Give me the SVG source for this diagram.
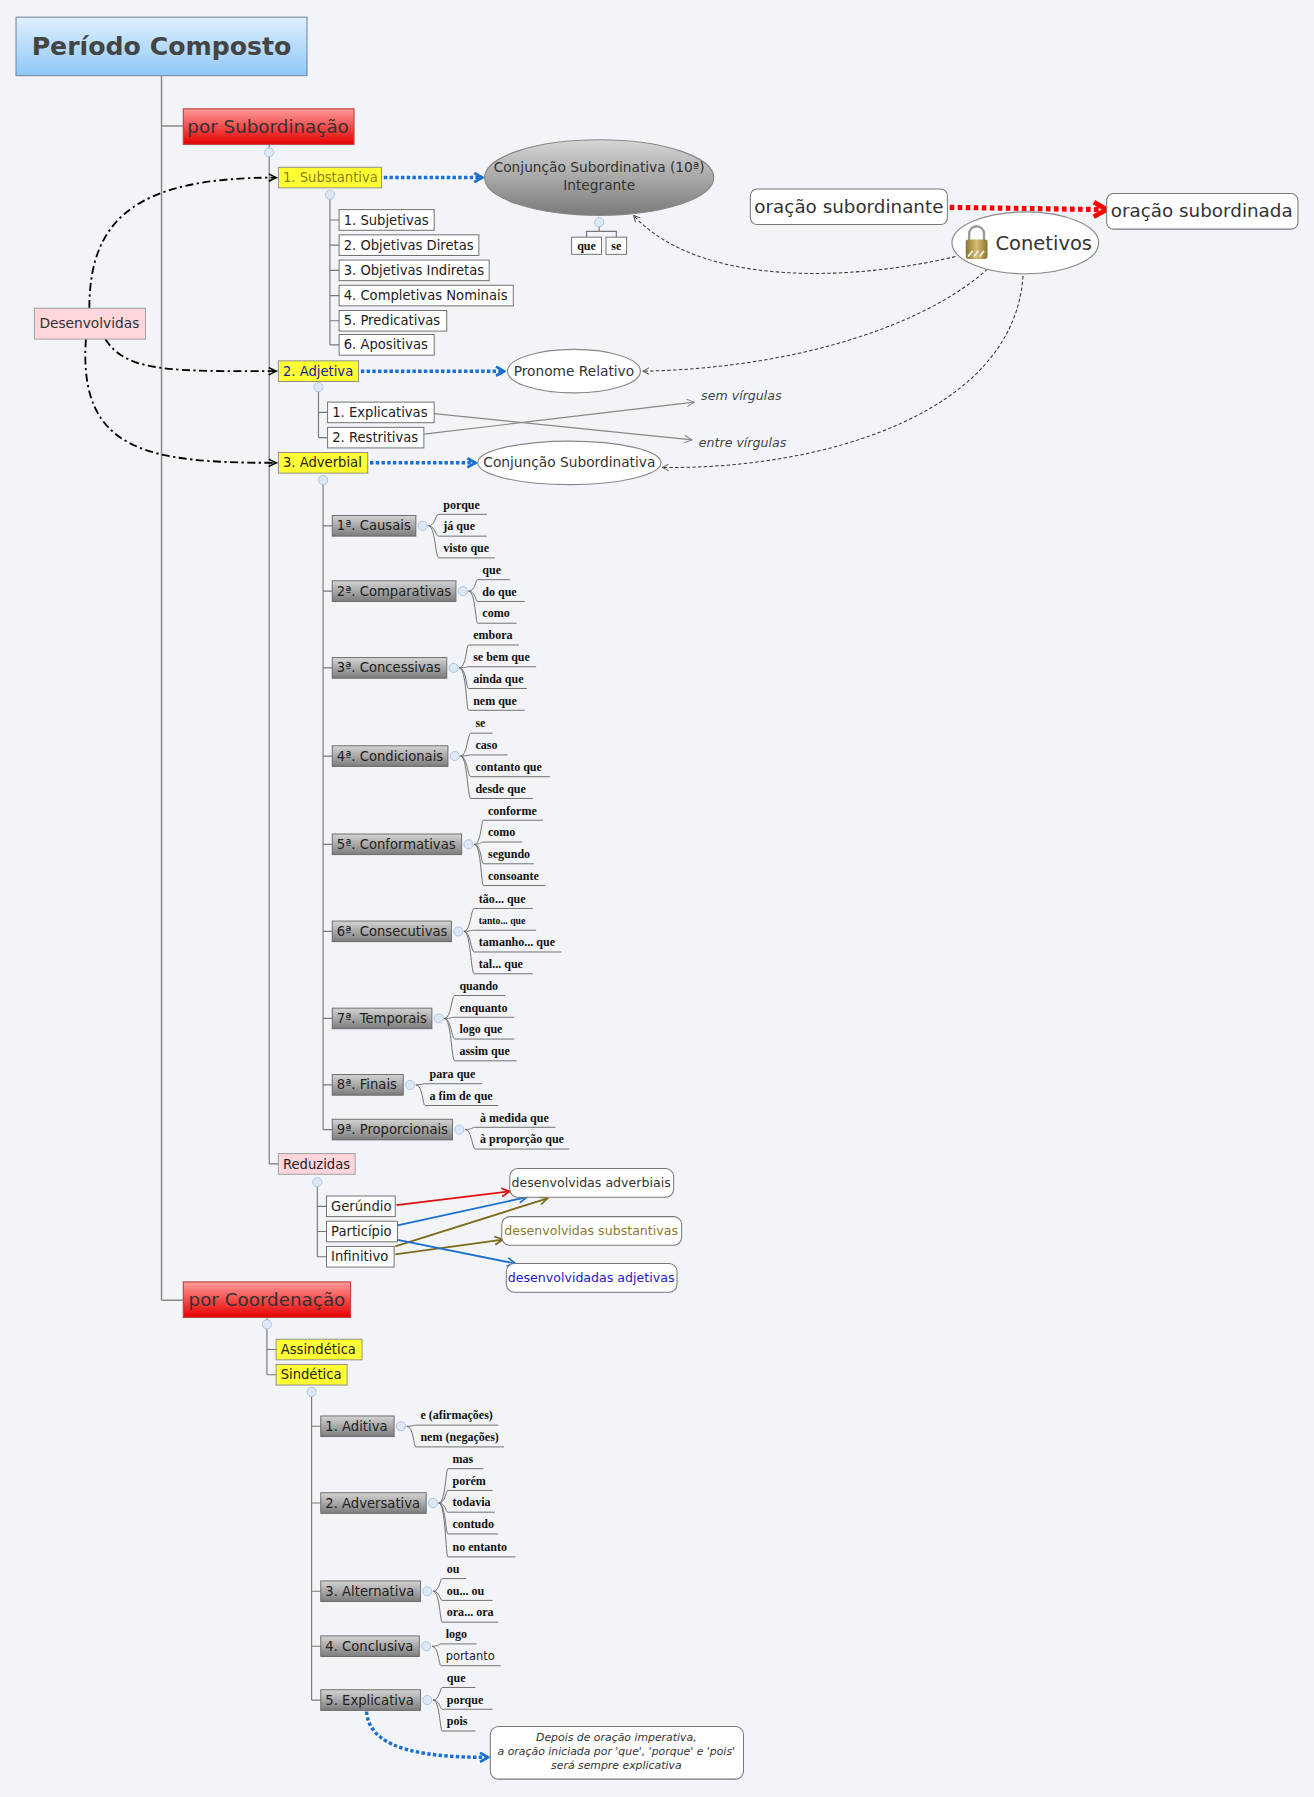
<svg xmlns="http://www.w3.org/2000/svg" width="1314" height="1797" viewBox="0 0 1314 1797">
<defs>
<linearGradient id="gBlue" x1="0" y1="0" x2="0" y2="1"><stop offset="0" stop-color="#dff0ff"/><stop offset="1" stop-color="#8ec8f7"/></linearGradient>
<linearGradient id="gRed" x1="0" y1="0" x2="0" y2="1"><stop offset="0" stop-color="#ff9a9a"/><stop offset="1" stop-color="#e60000"/></linearGradient>
<linearGradient id="gGray" x1="0" y1="0" x2="0" y2="1"><stop offset="0" stop-color="#d4d4d4"/><stop offset="1" stop-color="#7c7c7c"/></linearGradient>
<linearGradient id="gEll" x1="0" y1="0" x2="0" y2="1"><stop offset="0" stop-color="#d6d6d6"/><stop offset="1" stop-color="#7a7a7a"/></linearGradient>
<linearGradient id="gGold" x1="0" y1="0" x2="1" y2="0"><stop offset="0" stop-color="#8a7430"/><stop offset="0.5" stop-color="#d8bd70"/><stop offset="1" stop-color="#8a7430"/></linearGradient>
<marker id="aBlk" viewBox="0 0 10 10" refX="9" refY="5" markerWidth="8" markerHeight="8" orient="auto" markerUnits="userSpaceOnUse"><path d="M1 1 L9 5 L1 9" fill="none" stroke="#000" stroke-width="1.6"/></marker>
<marker id="aThin" viewBox="0 0 10 10" refX="9" refY="5" markerWidth="7" markerHeight="7" orient="auto" markerUnits="userSpaceOnUse"><path d="M1 1 L9 5 L1 9" fill="none" stroke="#333" stroke-width="1"/></marker>
<marker id="aGray" viewBox="0 0 10 10" refX="9" refY="5" markerWidth="8" markerHeight="8" orient="auto" markerUnits="userSpaceOnUse"><path d="M1 1 L9 5 L1 9" fill="none" stroke="#888" stroke-width="1.2"/></marker>
<marker id="aBlue" viewBox="0 0 10 10" refX="8" refY="5" markerWidth="10" markerHeight="10" orient="auto" markerUnits="userSpaceOnUse"><path d="M1 1 L8 5 L1 9" fill="none" stroke="#1a6fd0" stroke-width="2.4"/></marker>
<marker id="aRedBig" viewBox="0 0 10 10" refX="8" refY="5" markerWidth="16" markerHeight="16" orient="auto" markerUnits="userSpaceOnUse"><path d="M1 1 L8 5 L1 9" fill="none" stroke="#f00" stroke-width="2.6"/></marker>
<marker id="aRed" viewBox="0 0 10 10" refX="9" refY="5" markerWidth="9" markerHeight="9" orient="auto" markerUnits="userSpaceOnUse"><path d="M1 1 L9 5 L1 9" fill="none" stroke="#e01010" stroke-width="1.6"/></marker>
<marker id="aBl2" viewBox="0 0 10 10" refX="9" refY="5" markerWidth="9" markerHeight="9" orient="auto" markerUnits="userSpaceOnUse"><path d="M1 1 L9 5 L1 9" fill="none" stroke="#1a6fd0" stroke-width="1.6"/></marker>
<marker id="aOl" viewBox="0 0 10 10" refX="9" refY="5" markerWidth="9" markerHeight="9" orient="auto" markerUnits="userSpaceOnUse"><path d="M1 1 L9 5 L1 9" fill="none" stroke="#7d6a1a" stroke-width="1.6"/></marker>
<style>
text{font-family:"DejaVu Sans","Noto Sans",sans-serif;fill:#222}
.t11{font-size:11.5px}
.w{font-family:"Liberation Serif",serif;font-weight:bold;font-size:10.5px;fill:#111}
.tree{fill:none;stroke:#777;stroke-width:1}
.trunk{fill:none;stroke:#888;stroke-width:1.3}
.br{fill:none;stroke:#666;stroke-width:0.8}
.box{fill:#fff;stroke:#666;stroke-width:0.8}
.yel{fill:#ffff33;stroke:#888;stroke-width:0.8}
.pink{fill:#ffd6db;stroke:#999;stroke-width:0.8}
.gray{fill:url(#gGray);stroke:#666;stroke-width:0.8}
.rbox{fill:#fff;stroke:#777;stroke-width:0.9}
.col{fill:#dde8f5;stroke:#a9c2e2;stroke-width:0.8}
.dd{fill:none;stroke:#000;stroke-width:1.6;stroke-dasharray:7 3 2 3}
.bd{fill:none;stroke:#1a6fd0;stroke-width:3;stroke-dasharray:3 2}
.kd{fill:none;stroke:#333;stroke-width:0.9;stroke-dasharray:3 2}
</style>
</defs>
<rect width="1314" height="1797" fill="#f2f4f8"/>
<g transform="scale(1.1456)">
<g id="connectors">
<path class="trunk" d="M141 66 V1135 M141 110 H160 M141 1135 H160"/>
<path class="tree" d="M235 126 V1016 M235 155 H243 M235 324 H243 M235 404 H243 M235 1016 H243"/>
<path class="tree" d="M288 170 V301 M288 192 H296 M288 214 H296 M288 236 H296 M288 258 H296 M288 280 H296 M288 301 H296"/>
<path class="tree" d="M278 338 V382 M278 360 H286 M278 382 H286"/>
<path class="tree" d="M523 198 V202 M512 207 V202 H538 V207"/>
<path class="tree" d="M282 418 V986 M282 459 H290 M282 516 H290 M282 583 H290 M282 660 H290 M282 737 H290 M282 813 H290 M282 889 H290 M282 947 H290 M282 986 H290"/>
<path class="tree" d="M277 1031 V1097 M277 1053 H285 M277 1075 H285 M277 1097 H285"/>
<path class="tree" d="M233 1150 V1200 M233 1178 H241 M233 1200 H241"/>
<path class="tree" d="M272 1214 V1484 M272 1245 H280 M272 1312 H280 M272 1389 H280 M272 1437 H280 M272 1484 H280"/>
<path class="dd" d="M78 269 C78 190 120 155 241 155" marker-end="url(#aBlk)"/>
<path class="dd" d="M92 296 C110 325 150 324 241 324" marker-end="url(#aBlk)"/>
<path class="dd" d="M75 296 C68 395 130 404 241 404" marker-end="url(#aBlk)"/>
<path class="bd" d="M335 155 H421" marker-end="url(#aBlue)"/>
<path class="bd" d="M315 324 H440" marker-end="url(#aBlue)"/>
<path class="bd" d="M323 404 H415" marker-end="url(#aBlue)"/>
<path fill="none" stroke="#f00" stroke-width="4.5" stroke-dasharray="4 3" d="M829 181 L966 183" marker-end="url(#aRedBig)"/>
<path class="kd" d="M834 224 C740 246 610 250 553 188" marker-end="url(#aThin)"/>
<path class="kd" d="M862 235 C800 290 680 322 561 324" marker-end="url(#aThin)"/>
<path class="kd" d="M893 241 C885 360 720 410 578 408" marker-end="url(#aThin)"/>
<path fill="none" stroke="#888" stroke-width="1" d="M379 361 L604 384" marker-end="url(#aGray)"/>
<path fill="none" stroke="#888" stroke-width="1" d="M370 379 L606 351" marker-end="url(#aGray)"/>
<path fill="none" stroke="#e01010" stroke-width="1.6" d="M346 1052 L445 1040" marker-end="url(#aRed)"/>
<path fill="none" stroke="#1a6fd0" stroke-width="1.6" d="M345 1070 L460 1045" marker-end="url(#aBl2)"/>
<path fill="none" stroke="#7d6a1a" stroke-width="1.6" d="M345 1088 L478 1046" marker-end="url(#aOl)"/>
<path fill="none" stroke="#7d6a1a" stroke-width="1.6" d="M345 1095 L439 1082" marker-end="url(#aOl)"/>
<path fill="none" stroke="#1a6fd0" stroke-width="1.6" d="M346 1082 L450 1103" marker-end="url(#aBl2)"/>
<path class="bd" d="M320 1494 C322 1530 380 1534 426 1534" marker-end="url(#aBlue)"/>
<path class="br" d="M374 459C380 459 380 449 383 449H425M374 459C380 459 380 468 383 468H425M374 459C380 459 380 487 383 487H432"/>
<path class="br" d="M409 516C415 516 415 506 417 506H445M409 516C415 516 415 525 417 525H458M409 516C415 516 415 544 417 544H451"/>
<path class="br" d="M401 583C407 583 407 563 409 563H453M401 583C407 583 407 582 409 582H468M401 583C407 583 407 601 409 601H460M401 583C407 583 407 620 409 620H458"/>
<path class="br" d="M402 660C408 660 408 640 411 640H430M402 660C408 660 408 659 411 659H443M402 660C408 660 408 678 411 678H480M402 660C408 660 408 697 411 697H465"/>
<path class="br" d="M414 737C420 737 420 716 422 716H474M414 737C420 737 420 735 422 735H456M414 737C420 737 420 754 422 754H466M414 737C420 737 420 773 422 773H476"/>
<path class="br" d="M405 813C411 813 411 793 414 793H465M405 813C411 813 411 812 414 812H468M405 813C411 813 411 831 414 831H490M405 813C411 813 411 850 414 850H465"/>
<path class="br" d="M388 889C394 889 394 869 397 869H441M388 889C394 889 394 888 397 888H449M388 889C394 889 394 907 397 907H449M388 889C394 889 394 926 397 926H451"/>
<path class="br" d="M363 947C369 947 369 946 371 946H421M363 947C369 947 369 965 371 965H435"/>
<path class="br" d="M406 986C412 986 412 984 415 984H485M406 986C412 986 412 1003 415 1003H497"/>
<path class="br" d="M355 1245C361 1245 361 1244 363 1244H435M355 1245C361 1245 361 1263 363 1263H440"/>
<path class="br" d="M383 1312C389 1312 389 1282 391 1282H422M383 1312C389 1312 389 1301 391 1301H430M383 1312C389 1312 389 1320 391 1320H432M383 1312C389 1312 389 1339 391 1339H435M383 1312C389 1312 389 1359 391 1359H450"/>
<path class="br" d="M378 1389C384 1389 384 1378 386 1378H407M378 1389C384 1389 384 1397 386 1397H430M378 1389C384 1389 384 1416 386 1416H435"/>
<path class="br" d="M377 1437C383 1437 383 1435 385 1435H416M377 1437C383 1437 383 1454 385 1454H437"/>
<path class="br" d="M378 1484C384 1484 384 1473 386 1473H415M378 1484C384 1484 384 1492 386 1492H430M378 1484C384 1484 384 1511 386 1511H415"/>
</g>

<g id="n-title"><rect x="14" y="15" width="254" height="51" fill="url(#gBlue)" stroke="#7a8ea6"/><text x="141" y="48" text-anchor="middle" style="font-size:22px;font-weight:bold;fill:#444">Período Composto</text></g>
<g id="n-sub"><rect x="160" y="95" width="149" height="31" fill="url(#gRed)" stroke="#b44"/><text x="234" y="116" text-anchor="middle" style="font-size:16px;fill:#333">por Subordinação</text><circle class="col" cx="235" cy="133" r="4"/></g>
<g id="n-substantiva"><rect class="yel" x="243" y="146" width="90" height="18"/><text class="t11" x="247" y="159" style="fill:#8a7f10">1. Substantiva</text><circle class="col" cx="288" cy="170" r="4"/></g>
<g id="n-subj"><rect class="box" x="296" y="183" width="83" height="18"/><text class="t11" x="300" y="196">1. Subjetivas</text></g>
<g id="n-od"><rect class="box" x="296" y="205" width="122" height="18"/><text class="t11" x="300" y="218">2. Objetivas Diretas</text></g>
<g id="n-oi"><rect class="box" x="296" y="227" width="131" height="18"/><text class="t11" x="300" y="240">3. Objetivas Indiretas</text></g>
<g id="n-cn"><rect class="box" x="296" y="249" width="152" height="18"/><text class="t11" x="300" y="262">4. Completivas Nominais</text></g>
<g id="n-pred"><rect class="box" x="296" y="271" width="94" height="18"/><text class="t11" x="300" y="284">5. Predicativas</text></g>
<g id="n-apos"><rect class="box" x="296" y="292" width="83" height="18"/><text class="t11" x="300" y="305">6. Apositivas</text></g>
<g id="n-conjint"><ellipse cx="523" cy="155" rx="100" ry="33" fill="url(#gEll)" stroke="#888"/><text x="523" y="150" text-anchor="middle" style="font-size:12px;fill:#333">Conjunção Subordinativa (10ª)</text><text x="523" y="166" text-anchor="middle" style="font-size:12px;fill:#333">Integrante</text><circle class="col" cx="523" cy="194" r="4"/></g>
<g id="n-que"><rect class="box" x="499" y="207" width="26" height="15"/><text class="w" x="512" y="218" text-anchor="middle">que</text></g>
<g id="n-se"><rect class="box" x="529" y="207" width="18" height="15"/><text class="w" x="538" y="218" text-anchor="middle">se</text></g>
<g id="n-desenv"><rect class="pink" x="30" y="269" width="97" height="27"/><text x="78" y="286" text-anchor="middle" style="font-size:12px;fill:#333">Desenvolvidas</text></g>
<g id="n-subordinante"><rect class="rbox" x="655" y="165" width="172" height="31" rx="6"/><text x="741" y="186" text-anchor="middle" style="font-size:16px;fill:#333">oração subordinante</text></g>
<g id="n-subordinada"><rect class="rbox" x="966" y="169" width="167" height="31" rx="6"/><text x="1049" y="189" text-anchor="middle" style="font-size:16px;fill:#333">oração subordinada</text></g>
<g id="n-conetivos"><ellipse cx="895" cy="212" rx="64" ry="27" fill="#fff" stroke="#888"/>
<path d="M846 210 V204 a6.5 6.5 0 0 1 13 0 V210" fill="none" stroke="#999" stroke-width="2"/><rect x="843" y="209" width="19" height="17" rx="2" fill="url(#gGold)"/><path d="M845 224 l4 -5 M850 224 l4 -5 M855 224 l4 -5" stroke="#eee" stroke-width="1.5"/>
<text x="869" y="218" style="font-size:17px;fill:#333">Conetivos</text></g>
<g id="n-adjetiva"><rect class="yel" x="243" y="315" width="70" height="18"/><text class="t11" x="247" y="328" style="fill:#1a1aaa">2. Adjetiva</text><circle class="col" cx="278" cy="338" r="4"/></g>
<g id="n-expl"><rect class="box" x="286" y="351" width="93" height="18"/><text class="t11" x="290" y="364">1. Explicativas</text></g>
<g id="n-restr"><rect class="box" x="286" y="373" width="84" height="18"/><text class="t11" x="290" y="386">2. Restritivas</text></g>
<g id="n-pronrel"><ellipse cx="501" cy="324" rx="58" ry="19" fill="#fff" stroke="#888"/><text x="501" y="328" text-anchor="middle" style="font-size:12px;fill:#333">Pronome Relativo</text></g>
<g id="n-semv"><text x="612" y="349" style="font-size:11px;font-style:italic;fill:#444">sem vírgulas</text></g>
<g id="n-entrev"><text x="610" y="390" style="font-size:11px;font-style:italic;fill:#444">entre vírgulas</text></g>
<g id="n-adverbial"><rect class="yel" x="243" y="395" width="78" height="18"/><text class="t11" x="247" y="408">3. Adverbial</text><circle class="col" cx="282" cy="419" r="4"/></g>
<g id="n-conjsub"><ellipse cx="497" cy="404" rx="80" ry="19" fill="#fff" stroke="#888"/><text x="497" y="408" text-anchor="middle" style="font-size:12px;fill:#333">Conjunção Subordinativa</text></g>

<g id="n-causais"><rect class="gray" x="290" y="450" width="73" height="18"/><text class="t11" x="294" y="463">1ª. Causais</text><circle class="col" cx="369" cy="459" r="4"/>
<text class="w" x="387" y="444">porque</text><text class="w" x="387" y="463">já que</text><text class="w" x="387" y="482">visto que</text></g>
<g id="n-comp"><rect class="gray" x="290" y="507" width="108" height="18"/><text class="t11" x="294" y="520">2ª. Comparativas</text><circle class="col" cx="404" cy="516" r="4"/>
<text class="w" x="421" y="501">que</text><text class="w" x="421" y="520">do que</text><text class="w" x="421" y="539">como</text></g>
<g id="n-conc"><rect class="gray" x="290" y="574" width="100" height="18"/><text class="t11" x="294" y="587">3ª. Concessivas</text><circle class="col" cx="396" cy="583" r="4"/>
<text class="w" x="413" y="558">embora</text><text class="w" x="413" y="577">se bem que</text><text class="w" x="413" y="596">ainda que</text><text class="w" x="413" y="615">nem que</text></g>
<g id="n-cond"><rect class="gray" x="290" y="651" width="101" height="18"/><text class="t11" x="294" y="664">4ª. Condicionais</text><circle class="col" cx="397" cy="660" r="4"/>
<text class="w" x="415" y="635">se</text><text class="w" x="415" y="654">caso</text><text class="w" x="415" y="673">contanto que</text><text class="w" x="415" y="692">desde que</text></g>
<g id="n-conf"><rect class="gray" x="290" y="728" width="113" height="18"/><text class="t11" x="294" y="741">5ª. Conformativas</text><circle class="col" cx="409" cy="737" r="4"/>
<text class="w" x="426" y="711">conforme</text><text class="w" x="426" y="730">como</text><text class="w" x="426" y="749">segundo</text><text class="w" x="426" y="768">consoante</text></g>
<g id="n-cons"><rect class="gray" x="290" y="804" width="104" height="18"/><text class="t11" x="294" y="817">6ª. Consecutivas</text><circle class="col" cx="400" cy="813" r="4"/>
<text class="w" x="418" y="788">tão... que</text><text class="w" x="418" y="807" style="font-size:8.5px">tanto... que</text><text class="w" x="418" y="826">tamanho... que</text><text class="w" x="418" y="845">tal... que</text></g>
<g id="n-temp"><rect class="gray" x="290" y="880" width="87" height="18"/><text class="t11" x="294" y="893">7ª. Temporais</text><circle class="col" cx="383" cy="889" r="4"/>
<text class="w" x="401" y="864">quando</text><text class="w" x="401" y="883">enquanto</text><text class="w" x="401" y="902">logo que</text><text class="w" x="401" y="921">assim que</text></g>
<g id="n-finais"><rect class="gray" x="290" y="938" width="62" height="18"/><text class="t11" x="294" y="951">8ª. Finais</text><circle class="col" cx="358" cy="947" r="4"/>
<text class="w" x="375" y="941">para que</text><text class="w" x="375" y="960">a fim de que</text></g>
<g id="n-prop"><rect class="gray" x="290" y="977" width="105" height="18"/><text class="t11" x="294" y="990">9ª. Proporcionais</text><circle class="col" cx="401" cy="986" r="4"/>
<text class="w" x="419" y="979">à medida que</text><text class="w" x="419" y="998">à proporção que</text></g>

<g id="n-reduzidas"><rect class="pink" x="243" y="1007" width="67" height="18"/><text class="t11" x="247" y="1020">Reduzidas</text><circle class="col" cx="277" cy="1032" r="4"/></g>
<g id="n-gerundio"><rect class="box" x="285" y="1044" width="60" height="18"/><text class="t11" x="289" y="1057">Gerúndio</text></g>
<g id="n-participio"><rect class="box" x="285" y="1066" width="62" height="18"/><text class="t11" x="289" y="1079">Particípio</text></g>
<g id="n-infinitivo"><rect class="box" x="285" y="1088" width="59" height="18"/><text class="t11" x="289" y="1101">Infinitivo</text></g>
<g id="n-dadv"><rect class="rbox" x="445" y="1020" width="143" height="25" rx="7"/><text x="516" y="1036" text-anchor="middle" style="font-size:11px;fill:#333">desenvolvidas adverbiais</text></g>
<g id="n-dsub"><rect class="rbox" x="438" y="1062" width="157" height="25" rx="7"/><text x="516" y="1078" text-anchor="middle" style="font-size:11px;fill:#8a7a30">desenvolvidas substantivas</text></g>
<g id="n-dadj"><rect class="rbox" x="442" y="1103" width="149" height="25" rx="7"/><text x="516" y="1119" text-anchor="middle" style="font-size:11px;fill:#1a1acc">desenvolvidadas adjetivas</text></g>

<g id="n-coord"><rect x="160" y="1119" width="146" height="31" fill="url(#gRed)" stroke="#b44"/><text x="233" y="1140" text-anchor="middle" style="font-size:16px;fill:#333">por Coordenação</text><circle class="col" cx="233" cy="1156" r="4"/></g>
<g id="n-assind"><rect class="yel" x="241" y="1169" width="75" height="18"/><text class="t11" x="245" y="1182">Assindética</text></g>
<g id="n-sind"><rect class="yel" x="241" y="1191" width="62" height="18"/><text class="t11" x="245" y="1204">Sindética</text><circle class="col" cx="272" cy="1215" r="4"/></g>
<g id="n-aditiva"><rect class="gray" x="280" y="1236" width="64" height="18"/><text class="t11" x="284" y="1249">1. Aditiva</text><circle class="col" cx="350" cy="1245" r="4"/>
<text class="w" x="367" y="1239">e (afirmações)</text><text class="w" x="367" y="1258">nem (negações)</text></g>
<g id="n-advers"><rect class="gray" x="280" y="1303" width="92" height="18"/><text class="t11" x="284" y="1316">2. Adversativa</text><circle class="col" cx="378" cy="1312" r="4"/>
<text class="w" x="395" y="1277">mas</text><text class="w" x="395" y="1296">porém</text><text class="w" x="395" y="1315">todavia</text><text class="w" x="395" y="1334">contudo</text><text class="w" x="395" y="1354">no entanto</text></g>
<g id="n-altern"><rect class="gray" x="280" y="1380" width="87" height="18"/><text class="t11" x="284" y="1393">3. Alternativa</text><circle class="col" cx="373" cy="1389" r="4"/>
<text class="w" x="390" y="1373">ou</text><text class="w" x="390" y="1392">ou... ou</text><text class="w" x="390" y="1411">ora... ora</text></g>
<g id="n-concl"><rect class="gray" x="280" y="1428" width="86" height="18"/><text class="t11" x="284" y="1441">4. Conclusiva</text><circle class="col" cx="372" cy="1437" r="4"/>
<text class="w" x="389" y="1430">logo</text><text x="389" y="1449" style="font-size:10px;fill:#222">portanto</text></g>
<g id="n-explc"><rect class="gray" x="280" y="1475" width="87" height="18"/><text class="t11" x="284" y="1488">5. Explicativa</text><circle class="col" cx="373" cy="1484" r="4"/>
<text class="w" x="390" y="1468">que</text><text class="w" x="390" y="1487">porque</text><text class="w" x="390" y="1506">pois</text></g>
<g id="n-nota"><rect class="rbox" x="428" y="1507" width="221" height="46" rx="7"/>
<text x="538" y="1520" text-anchor="middle" style="font-size:9.5px;font-style:italic;fill:#333">Depois de oração imperativa,</text>
<text x="538" y="1532" text-anchor="middle" style="font-size:9.5px;font-style:italic;fill:#333">a oração iniciada por 'que', 'porque' e 'pois'</text>
<text x="538" y="1544" text-anchor="middle" style="font-size:9.5px;font-style:italic;fill:#333">será sempre explicativa</text></g>
</g>
</svg>
